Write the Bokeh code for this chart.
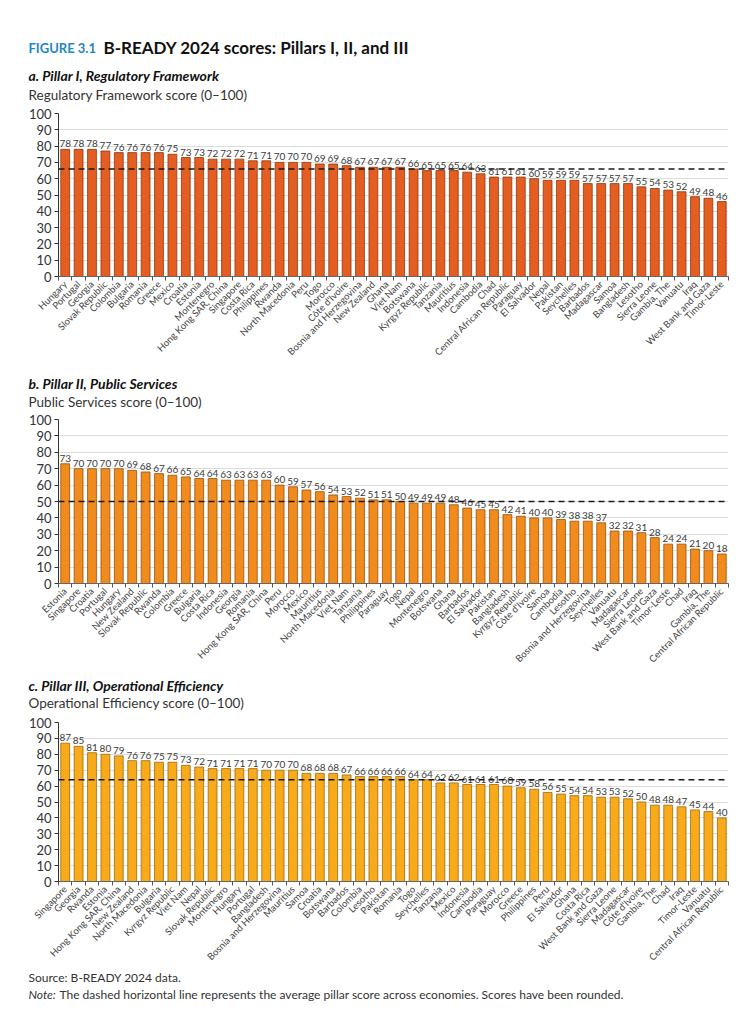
from bokeh.plotting import figure
from bokeh.models import Range1d, FixedTicker, Span, ColumnDataSource
from bokeh.layouts import column
from bokeh.embed import file_html
from bokeh.resources import INLINE
from bokeh.core.properties import value

# ---------------- data ----------------
pillar1_economies = ["Hungary", "Portugal", "Georgia", "Slovak Republic", "Colombia", "Bulgaria", "Romania",
                     "Greece", "Mexico", "Croatia", "Estonia", "Montenegro", "Hong Kong SAR, China", "Singapore",
                     "Costa Rica", "Philippines", "Rwanda", "North Macedonia", "Peru", "Togo", "Morocco",
                     "Côte d'Ivoire", "Bosnia and Herzegovina", "New Zealand", "Ghana", "Viet Nam", "Botswana",
                     "Kyrgyz Republic", "Tanzania", "Mauritius", "Indonesia", "Cambodia", "Chad",
                     "Central African Republic", "Paraguay", "El Salvador", "Nepal", "Pakistan", "Seychelles",
                     "Barbados", "Madagascar", "Samoa", "Bangladesh", "Lesotho", "Sierra Leone", "Gambia, The",
                     "Vanuatu", "Iraq", "West Bank and Gaza", "Timor-Leste"]
pillar1_scores = [78, 78, 78, 77, 76, 76, 76, 76, 75, 73, 73, 72, 72, 72, 71, 71, 70, 70, 70, 69, 69, 68, 67, 67,
                  67, 67, 66, 65, 65, 65, 64, 63, 61, 61, 61, 60, 59, 59, 59, 57, 57, 57, 57, 55, 54, 53, 52, 49,
                  48, 46]
pillar1_average = 66

pillar2_economies = ["Estonia", "Singapore", "Croatia", "Portugal", "Hungary", "New Zealand", "Slovak Republic",
                     "Rwanda", "Colombia", "Greece", "Bulgaria", "Costa Rica", "Indonesia", "Georgia", "Romania",
                     "Hong Kong SAR, China", "Peru", "Morocco", "Mexico", "Mauritius", "North Macedonia",
                     "Viet Nam", "Tanzania", "Philippines", "Paraguay", "Togo", "Nepal", "Montenegro", "Botswana",
                     "Ghana", "Barbados", "El Salvador", "Pakistan", "Bangladesh", "Kyrgyz Republic",
                     "Côte d'Ivoire", "Samoa", "Cambodia", "Lesotho", "Bosnia and Herzegovina", "Seychelles",
                     "Vanuatu", "Madagascar", "Sierra Leone", "West Bank and Gaza", "Timor-Leste", "Chad", "Iraq",
                     "Gambia, The", "Central African Republic"]
pillar2_scores = [73, 70, 70, 70, 70, 69, 68, 67, 66, 65, 64, 64, 63, 63, 63, 63, 60, 59, 57, 56, 54, 53, 52, 51,
                  51, 50, 49, 49, 49, 48, 46, 45, 45, 42, 41, 40, 40, 39, 38, 38, 37, 32, 32, 31, 28, 24, 24, 21,
                  20, 18]
pillar2_average = 50

pillar3_economies = ["Singapore", "Georgia", "Rwanda", "Estonia", "Hong Kong SAR, China", "New Zealand",
                     "North Macedonia", "Bulgaria", "Kyrgyz Republic", "Viet Nam", "Nepal", "Slovak Republic",
                     "Montenegro", "Hungary", "Portugal", "Bangladesh", "Bosnia and Herzegovina", "Mauritius",
                     "Samoa", "Croatia", "Botswana", "Barbados", "Colombia", "Lesotho", "Pakistan", "Romania",
                     "Togo", "Seychelles", "Tanzania", "Mexico", "Indonesia", "Cambodia", "Paraguay", "Morocco",
                     "Greece", "Philippines", "Peru", "El Salvador", "Ghana", "Costa Rica", "West Bank and Gaza",
                     "Sierra Leone", "Madagascar", "Côte d'Ivoire", "Gambia, The", "Chad", "Iraq", "Timor-Leste",
                     "Vanuatu", "Central African Republic"]
pillar3_scores = [87, 85, 81, 80, 79, 76, 76, 75, 75, 73, 72, 71, 71, 71, 71, 70, 70, 70, 68, 68, 68, 67, 66, 66,
                  66, 66, 64, 64, 62, 62, 61, 61, 61, 60, 59, 58, 56, 55, 54, 54, 53, 53, 52, 50, 48, 48, 47, 45,
                  44, 40]
pillar3_average = 64

y_ticks = [0, 10, 20, 30, 40, 50, 60, 70, 80, 90, 100]

figure_label = "FIGURE 3.1"
figure_title = "B-READY 2024 scores: Pillars I, II, and III"
panel_titles = ["a. Pillar I, Regulatory Framework", "b. Pillar II, Public Services",
                "c. Pillar III, Operational Efficiency"]
axis_captions = ["Regulatory Framework score (0–100)", "Public Services score (0–100)",
                 "Operational Efficiency score (0–100)"]
source_text = "Source: B-READY 2024 data."
note_head = "Note:"
note_text = "The dashed horizontal line represents the average pillar score across economies. Scores have been rounded."

# ---------------- styling ----------------
W = 749
FRAME_L = 58
FRAME_R = 21
FONT = "Lato"
TEXT_X = 28


def text_strip(height, items):
    """A frame-only figure whose data space equals its pixel space (y downwards)."""
    p = figure(width=W, height=height, output_backend="svg", toolbar_location=None, title=None,
               x_range=Range1d(0, W), y_range=Range1d(height, 0),
               x_axis_location=None, y_axis_location=None, min_border=0,
               min_border_left=0, min_border_right=0, min_border_top=0, min_border_bottom=0,
               frame_align=False)
    p.grid.visible = False
    p.outline_line_color = None
    p.background_fill_color = "white"
    p.border_fill_color = "white"
    for x, y, txt, size, style, color in items:
        p.text(x=[x], y=[y], text=[txt], text_align="left", text_baseline="middle",
               text_font=value(FONT), text_font_size=size, text_font_style=style, text_color=color)
    return p


def make_panel(economies, scores, average, fill, edge, top, frame_h, bottom):
    n = len(economies)
    p = figure(width=W, height=top + frame_h + bottom, output_backend="svg", toolbar_location=None,
               title=None, x_range=Range1d(-0.5, n - 0.5), y_range=Range1d(0, 100),
               min_border_left=FRAME_L, min_border_right=FRAME_R,
               min_border_top=top, min_border_bottom=bottom)
    p.outline_line_color = None
    p.background_fill_color = "white"
    p.border_fill_color = "white"

    xs = list(range(n))
    src = ColumnDataSource(dict(x=xs, top=scores, label=[str(s) for s in scores]))
    p.vbar(x="x", top="top", bottom=0, width=0.66, source=src,
           fill_color=fill, line_color=edge, line_width=0.8)
    p.text(x="x", y="top", text="label", source=src, text_align="center", text_baseline="bottom",
           y_offset=-2, text_font=value(FONT), text_font_size="10px", text_color="#3c3c3c")
    p.add_layout(Span(location=average, dimension="width", line_color="#1a1a1a",
                      line_dash="6 4", line_width=1.5))

    yax = p.yaxis[0]
    yax.ticker = FixedTicker(ticks=y_ticks)
    yax.axis_line_color = "#333333"
    yax.major_tick_line_color = "#333333"
    yax.major_tick_out = 4
    yax.major_tick_in = 0
    yax.minor_tick_line_color = None
    yax.major_label_text_font = FONT
    yax.major_label_text_font_size = "13px"
    yax.major_label_text_color = "#333333"
    yax.major_label_standoff = 3

    xax = p.xaxis[0]
    xax.ticker = FixedTicker(ticks=xs, minor_ticks=[i - 0.5 for i in range(n + 1)])
    xax.major_label_overrides = {i: name for i, name in enumerate(economies)}
    xax.major_label_orientation = 0.785398
    xax.major_tick_line_color = None
    xax.major_tick_out = 0
    xax.major_tick_in = 0
    xax.minor_tick_line_color = "#555555"
    xax.minor_tick_out = 4
    xax.minor_tick_in = 0
    xax.axis_line_color = "#666666"
    xax.major_label_text_font = FONT
    xax.major_label_text_font_size = "9.5px"
    xax.major_label_text_color = "#444444"
    xax.major_label_standoff = 2

    p.xgrid.grid_line_color = None
    p.ygrid.grid_line_color = "#dcdcdc"
    p.ygrid.grid_line_width = 1.2
    return p


head_a = text_strip(104, [
    (TEXT_X, 47, figure_label, "13px", "bold", "#1f86c6"),
    (103, 47, figure_title, "17px", "bold", "#111111"),
    (TEXT_X, 75, panel_titles[0], "14px", "bold italic", "#111111"),
    (TEXT_X, 94, axis_captions[0], "13.5px", "normal", "#333333"),
])
pa = make_panel(pillar1_economies, pillar1_scores, pillar1_average, "#E35E20", "#8c3812", 9, 163, 94)

head_b = text_strip(40, [
    (TEXT_X, 13, panel_titles[1], "14px", "bold italic", "#111111"),
    (TEXT_X, 31, axis_captions[1], "13.5px", "normal", "#333333"),
])
pb = make_panel(pillar2_economies, pillar2_scores, pillar2_average, "#F28B1E", "#94520f", 9, 164, 89)

head_c = text_strip(41, [
    (TEXT_X, 13, panel_titles[2], "14px", "bold italic", "#111111"),
    (TEXT_X, 30, axis_captions[2], "13.5px", "normal", "#333333"),
])
pc = make_panel(pillar3_economies, pillar3_scores, pillar3_average, "#F9AA1B", "#9a6a0e", 9, 159, 88)

foot = text_strip(55, [
    (TEXT_X, 8, source_text, "12px", "normal", "#333333"),
    (TEXT_X, 25, note_head, "12px", "italic", "#333333"),
    (TEXT_X + 31, 25, note_text, "12px", "normal", "#333333"),
])

layout = column(head_a, pa, head_b, pb, head_c, pc, foot)
open("out.html", "w").write(file_html(layout, INLINE))
